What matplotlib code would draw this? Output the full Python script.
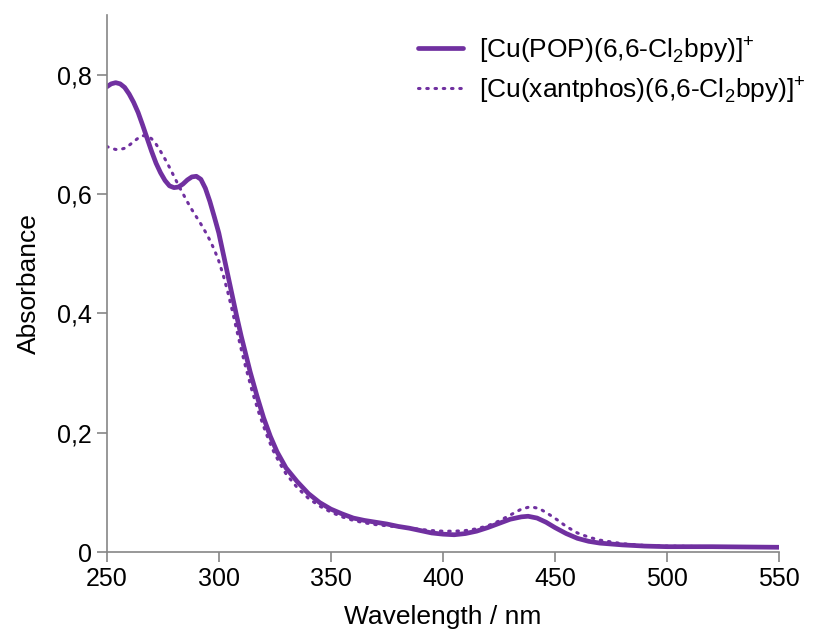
import matplotlib
matplotlib.use("Agg")
from matplotlib import pyplot as plt
from matplotlib.ticker import FuncFormatter

plt.rcParams['font.family'] = ['Liberation Sans', 'DejaVu Sans']

# wavelength (nm) / absorbance
wl_pop = [250, 252, 254, 256, 258, 260, 262, 264, 266, 268, 270, 272, 274, 276, 278,
          280, 282, 284, 286, 288, 290, 292, 294, 296, 298, 300, 302, 304, 306, 308,
          310, 312, 314, 317, 320, 323, 326, 330, 335, 340, 345, 350, 355, 360,
          365, 370, 375, 380, 385, 390, 395, 400, 405, 410, 415, 420, 425, 430, 435,
          438, 442, 446, 450, 455, 460, 465, 470, 480, 490, 500, 520, 550]
abs_pop = [0.780, 0.785, 0.787, 0.785, 0.779, 0.768, 0.754, 0.737, 0.716, 0.694, 0.672,
           0.652, 0.636, 0.623, 0.614, 0.611, 0.612, 0.617, 0.624, 0.629, 0.630, 0.625,
           0.610, 0.588, 0.562, 0.535, 0.500, 0.465, 0.430, 0.395, 0.362, 0.332, 0.302,
           0.262, 0.225, 0.194, 0.168, 0.141, 0.118, 0.098, 0.083, 0.072, 0.064, 0.057,
           0.053, 0.050, 0.047, 0.043, 0.040, 0.036, 0.032, 0.030, 0.029, 0.031, 0.035,
           0.041, 0.048, 0.055, 0.059, 0.060, 0.057, 0.050, 0.041, 0.031, 0.023, 0.018,
           0.015, 0.012, 0.010, 0.009, 0.009, 0.008]

wl_xant = [250, 252, 254, 256, 258, 260, 262, 264, 266, 268, 270, 272, 274, 276, 278,
           280, 282, 284, 286, 288, 290, 292, 294, 296, 298, 300, 302, 304, 306, 308,
           310, 312, 315, 318, 321, 324, 327, 330, 335, 340, 345, 350, 355, 360,
           365, 370, 375, 380, 385, 390, 395, 400, 405, 410, 415, 420, 425, 430, 435,
           439, 443, 447, 451, 455, 460, 465, 470, 480, 490, 500, 520, 550]
abs_xant = [0.680, 0.677, 0.675, 0.675, 0.677, 0.682, 0.688, 0.694, 0.698, 0.698, 0.693,
            0.684, 0.672, 0.659, 0.645, 0.630, 0.615, 0.601, 0.587, 0.574, 0.562, 0.550,
            0.537, 0.523, 0.507, 0.488, 0.464, 0.436, 0.405, 0.372, 0.340, 0.310, 0.268,
            0.232, 0.200, 0.172, 0.150, 0.131, 0.108, 0.090, 0.077, 0.067, 0.059, 0.053,
            0.049, 0.046, 0.044, 0.042, 0.040, 0.038, 0.036, 0.035, 0.035, 0.036, 0.039,
            0.044, 0.052, 0.062, 0.072, 0.076, 0.073, 0.064, 0.054, 0.043, 0.032, 0.025,
            0.020, 0.014, 0.011, 0.010, 0.009, 0.008]

labels = ['[Cu(POP)(6,6-Cl$_\\mathregular{2}$bpy)]$^\\mathregular{+}$',
          '[Cu(xantphos)(6,6-Cl$_\\mathregular{2}$bpy)]$^\\mathregular{+}$']
purple = '#7030A0'

fig = plt.figure(figsize=(8.21, 6.36), dpi=100)
ax = fig.add_axes([0.130, 0.132, 0.819, 0.844])

ax.plot(wl_pop, abs_pop, color=purple, lw=3.4, label=labels[0],
        solid_capstyle='round', solid_joinstyle='round')
ax.plot(wl_xant, abs_xant, color=purple, lw=2.2, linestyle=(0, (0.5, 2.2)),
        dash_capstyle='round', label=labels[1])

ax.set_xlim(250, 550)
ax.set_ylim(0, 0.9)
ax.set_xticks(range(250, 551, 50))
ax.set_yticks([0, 0.2, 0.4, 0.6, 0.8])
ax.yaxis.set_major_formatter(FuncFormatter(lambda v, p: '0' if v == 0 else f'{v:.1f}'.replace('.', ',')))

for s in ['top', 'right']:
    ax.spines[s].set_visible(False)
for s in ['left', 'bottom']:
    ax.spines[s].set_color('#868686')
    ax.spines[s].set_linewidth(1.2)
ax.tick_params(colors='#868686', labelcolor='black', labelsize=18, length=7, width=1.2)

ax.set_xlabel('Wavelength / nm', fontsize=19, labelpad=10)
ax.set_ylabel('Absorbance', fontsize=19, labelpad=12)

ax.legend(loc='upper right', bbox_to_anchor=(1.075, 1.01), frameon=False, fontsize=19,
          handlelength=1.7, handletextpad=0.6, labelspacing=0.35)

fig.savefig('out.png', dpi=100)
